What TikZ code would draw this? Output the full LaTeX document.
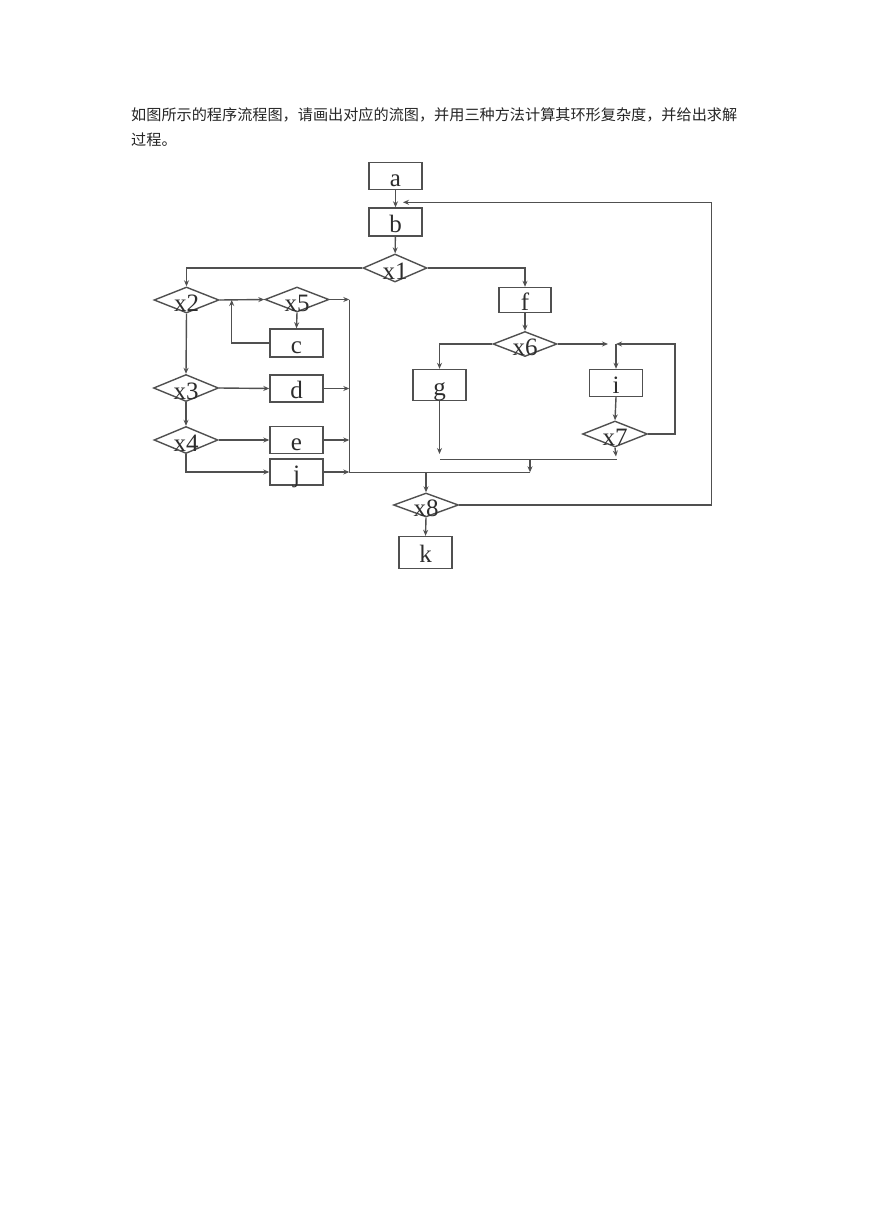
\documentclass[tikz,border=0pt]{standalone}
\usepackage{fontspec}
\setmainfont{Liberation Serif}
\newfontfamily\cjk{Noto Sans CJK SC}
\usetikzlibrary{shapes.geometric,arrows.meta}
\definecolor{lncol}{RGB}{80,80,80}
\definecolor{txcol}{RGB}{45,45,45}
\newcommand\dlab[1]{\raisebox{-11.5pt}[0pt][0pt]{\makebox[0pt]{#1}}}
\begin{document}
\begin{tikzpicture}[x=1pt,y=-1pt,
  box/.style={draw=lncol,line width=1.4pt,rectangle,minimum width=53pt,minimum height=27pt,inner sep=0pt,text=txcol,font=\fontsize{25}{25}\selectfont,text height=20pt,text depth=0pt},
  dia/.style={draw=lncol,line width=1.4pt,diamond,minimum width=65pt,minimum height=26pt,inner sep=0pt,text=txcol,font=\fontsize{25}{25}\selectfont},
  arr/.style={draw=lncol,line width=1.4pt,-{Stealth[length=6pt,width=5pt]}},
  wire/.style={draw=lncol,line width=1.4pt},
  cjktext/.style={anchor=base west,inner sep=0pt,text=black!85,font=\cjk\fontsize{15.15}{15.15}\selectfont}]
\path[use as bounding box,fill=white] (0,0) rectangle (869,1228);

% heading text
\node[cjktext] (t1) at (131,120.8) {如图所示的程序流程图，请画出对应的流图，并用三种方法计算其环形复杂度，并给出求解};
\node[cjktext] (t2) at (131,145.3) {过程。};

% nodes
\node[box] (a) at (395.5,176) {a};
\node[box,minimum height=28pt] (b) at (395.5,222) {b};
\node[dia,minimum width=64pt,minimum height=28pt] (x1) at (395,268) {\dlab{x1}};
\node[dia] (x2) at (186.5,300) {\dlab{x2}};
\node[dia,minimum width=64pt,minimum height=25pt] (x5) at (297,299.5) {\dlab{x5}};
\node[box,minimum height=28pt] (c) at (296.5,343) {c};
\node[dia,minimum height=27pt] (x3) at (186,388) {\dlab{x3}};
\node[box] (d) at (296.5,388.5) {d};
\node[dia,minimum width=64pt,minimum height=27pt] (x4) at (186,440) {\dlab{x4}};
\node[box] (e) at (296.5,440) {e};
\node[box,minimum height=26pt] (j) at (296.5,472) {j};
\node[box,minimum width=52pt,minimum height=25pt] (f) at (525,300) {f};
\node[dia,minimum width=64pt,minimum height=25pt] (x6) at (525,344) {\dlab{x6}};
\node[box,minimum height=31pt] (g) at (439.5,385) {g};
\node[box] (i) at (616,383) {i};
\node[dia] (x7) at (615,434) {\dlab{x7}};
\node[dia,minimum height=24pt] (x8) at (426,505) {\dlab{x8}};
\node[box,minimum height=32pt] (k) at (425.5,552.5) {k};

% helper coordinates
\coordinate (cl) at (231.7,300);
\coordinate (vt) at (349.3,299.5);
\coordinate (vb) at (349.3,472.3);
\coordinate (mr) at (530,472.3);
\coordinate (mx) at (426,472.3);
\coordinate (fb1) at (711.7,505);
\coordinate (fb2) at (711.7,202.3);
\coordinate (fbe) at (403,202.3);
\coordinate (x6e) at (608,344);
\coordinate (lp1) at (675,434);
\coordinate (lp2) at (616,344);
\coordinate (ge) at (439.5,454);
\coordinate (x7e) at (616,456.5);
\coordinate (ml) at (440,459.5);
\coordinate (mrr) at (616.7,459.5);
\coordinate (mm) at (530,459.5);

% connectors
\draw[arr] (a) -- (b);
\draw[arr] (b) -- (x1);
\draw[arr] (x1.west) -| (x2.north);
\draw[arr] (x1.east) -| (f.north);
\draw[arr] (x2.east) -- (x5.west);
\draw[arr] (c.west) -| (cl);
\draw[arr] (x5.south) -- (c.north);
\draw[arr] (x5.east) -- (vt);
\draw[wire] (vt) -- (vb);
\draw[arr] (x2.south) -- (x3.north);
\draw[arr] (x3.east) -- (d.west);
\draw[arr] (d.east) -- (d.east -| vt);
\draw[arr] (x3.south) -- (x4.north);
\draw[arr] (x4.east) -- (e.west);
\draw[arr] (e.east) -- (e.east -| vt);
\draw[arr] (x4.south) |- (j.west);
\draw[arr] (j.east) -- (j.east -| vt);
\draw[wire] (vb) -- (mr);
\draw[arr] (mx) -- (x8.north);
\draw[arr] (x8.south) -- (k.north);
\draw[arr] (x8.east) -- (fb1) -- (fb2) -- (fbe);
\draw[arr] (f.south) -- (x6.north);
\draw[arr] (x6.west) -| (g.north);
\draw[arr] (x6.east) -- (x6e);
\draw[arr] (x7.east) -- (lp1) |- (lp2);
\draw[arr] (lp2) -- (i.north);
\draw[arr] (i.south) -- (x7.north);
\draw[arr] (g.south) -- (ge);
\draw[arr] (x7.south) -- (x7e);
\draw[wire] (ml) -- (mrr);
\draw[arr] (mm) -- (mr);
\end{tikzpicture}
\end{document}
